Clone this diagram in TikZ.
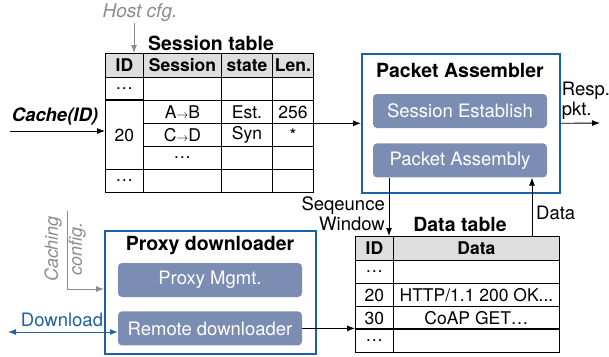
\documentclass[tikz,border=0pt]{standalone}
\usepackage{fontspec}
\setmainfont{TeX Gyre Heros}
\usetikzlibrary{positioning,arrows.meta}

\definecolor{modblue}{RGB}{28,96,166}
\definecolor{unitfill}{RGB}{124,141,180}
\definecolor{cfggray}{RGB}{140,140,140}
\definecolor{headgray}{RGB}{222,222,222}

\begin{document}
\begin{tikzpicture}[
    x=1pt, y=-1pt,
    cell/.style={draw, line width=0.9pt, minimum height=23pt, inner sep=0pt, anchor=north west, font=\fontsize{17.5}{19}\selectfont},
    head/.style={cell, fill=headgray, minimum height=24pt, font=\fontsize{17.5}{19}\selectfont\bfseries},
    title/.style={font=\fontsize{19.5}{22}\selectfont\bfseries},
    module/.style={draw=modblue, line width=1.6pt, anchor=north west, inner sep=0pt},
    unit/.style={fill=unitfill, rounded corners=4pt, text=white, minimum height=34pt, inner sep=0pt, font=\fontsize{18.5}{21}\selectfont},
    arrow/.style={-{Latex[length=8pt,width=6pt]}, line width=0.9pt},
    cfgarrow/.style={arrow, cfggray},
    note/.style={font=\fontsize{18.5}{20}\selectfont, inner sep=1pt}
]
\useasboundingbox (0,0) rectangle (609,356);

% Session table
\node[title] (s-title) at (211,43) {Session table};
\node[head, minimum width=38] (s-idh) at (105,53) {ID};
\node[head, minimum width=78] (s-sessh) at (143,53) {Session};
\node[head, minimum width=51] (s-stah) at (221,53) {state};
\node[head, minimum width=41] (s-lenh) at (272,53) {Len.};

\node[cell, minimum width=38] (s-id1) at (105,77) {\dots};
\node[cell, minimum width=78] (s-sess1) at (143,77) {};
\node[cell, minimum width=51] (s-sta1) at (221,77) {};
\node[cell, minimum width=41] (s-len1) at (272,77) {};

\node[cell, minimum width=38, minimum height=69] (s-id20) at (105,100) {20};
\node[cell, minimum width=78] (s-sess2) at (143,100) {A{\fontsize{12}{12}\selectfont$\rightarrow$}B};
\node[cell, minimum width=51] (s-sta2) at (221,100) {Est.};
\node[cell, minimum width=41] (s-len2) at (272,100) {256};

\node[cell, minimum width=78] (s-sess3) at (143,123) {C{\fontsize{12}{12}\selectfont$\rightarrow$}D};
\node[cell, minimum width=51] (s-sta3) at (221,123) {Syn};
\node[cell, minimum width=41] (s-len3) at (272,123) {*};

\node[cell, minimum width=78] (s-sess4) at (143,146) {\dots};
\node[cell, minimum width=51] (s-sta4) at (221,146) {};
\node[cell, minimum width=41] (s-len4) at (272,146) {};

\node[cell, minimum width=38] (s-id5) at (105,169) {\dots};
\node[cell, minimum width=78] (s-sess5) at (143,169) {};
\node[cell, minimum width=51] (s-sta5) at (221,169) {};
\node[cell, minimum width=41] (s-len5) at (272,169) {};

\draw[line width=2pt] (s-id20.north west) -- (s-id20.north east);

% Packet assembler
\node[module, minimum width=198, minimum height=139] (asm) at (361,53) {};
\node[title] (asm-title) at (460,70) {Packet Assembler};
\node[unit, minimum width=174] (est) at (460,111) {Session Establish};
\node[unit, minimum width=174, below=15pt of est] (pkt) {Packet Assembly};

% Proxy downloader
\node[module, minimum width=211, minimum height=123] (proxy) at (104,230) {};
\node[title] (proxy-title) at (210,246) {Proxy downloader};
\node[unit, minimum width=184] (mgmt) at (210,280) {Proxy Mgmt.};
\node[unit, minimum width=184, below=14pt of mgmt] (remote) {Remote downloader};

% Data table
\node[title] (d-title) at (460,224) {Data table};
\node[head, minimum width=38] (d-idh) at (355,236) {ID};
\node[head, minimum width=166] (d-datah) at (393,236) {Data};
\node[cell, minimum width=38] (d-id1) at (355,260) {\dots};
\node[cell, minimum width=166] (d-data1) at (393,260) {};
\node[cell, minimum width=38] (d-id2) at (355,283) {20};
\node[cell, minimum width=166] (d-data2) at (393,283) {HTTP/1.1 200 OK...};
\node[cell, minimum width=38] (d-id3) at (355,306) {30};
\node[cell, minimum width=166] (d-data3) at (393,306) {CoAP GET\dots};
\node[cell, minimum width=38] (d-id4) at (355,329) {\dots};
\node[cell, minimum width=166] (d-data4) at (393,329) {};
\draw[line width=2pt] (d-id4.north west) -- (d-data4.north east);

% Inputs and config
\node[note, text=cfggray, font=\fontsize{19}{20}\selectfont\itshape] (host) at (140,13) {Host cfg.};
\draw[cfgarrow] ([xshift=-6pt]host.south) -- ([xshift=-6pt]host.south |- s-idh.north);

\node[note, font=\fontsize{18.5}{20}\selectfont\bfseries\itshape] (cache) at (55,116) {Cache(ID)};
\coordinate (cache-in) at (10,131);
\draw[arrow] (cache-in) -- (cache-in -| s-id20.west);

\node[note, text=cfggray, font=\fontsize{18}{24}\selectfont\itshape, rotate=90, align=center] (cfg) at (65,249) {Caching\\config.};
\coordinate (cfg-top) at (67,211);
\coordinate (cfg-corner) at (67,289);
\draw[cfgarrow] (cfg-top) -- (cfg-corner) -- (cfg-corner -| proxy.west);

\node[note, text=modblue] (dl) at (62,320) {Download};
\coordinate (dl-out) at (8,332);
\draw[{Latex[length=8pt,width=6pt]}-{Latex[length=8pt,width=6pt]}, line width=0.9pt, modblue] (dl-out) -- (dl-out -| remote.west);

% Connections
\draw[arrow] (asm.west -| s-lenh.east) -- (asm.west);
\coordinate (resp-out) at (600,123);
\draw[arrow] (asm.east) -- (resp-out);
\node[note, anchor=south west, align=left] (resp) at ([yshift=3pt]asm.east) {Resp.\\pkt.};

\draw[arrow] ([xshift=-71pt]pkt.south) -- ([xshift=-71pt]pkt.south |- d-idh.north);
\node[note, anchor=east, align=right] (seqwin) at (386,214) {Seqeunce\\Window};
\draw[arrow] ([xshift=72pt]pkt.south |- d-datah.north) -- ([xshift=72pt]pkt.south);
\node[note, anchor=west] (data-lbl) at (535,213) {Data};

\draw[arrow] (remote.east) -- (remote.east -| d-idh.west);

\end{tikzpicture}
\end{document}
